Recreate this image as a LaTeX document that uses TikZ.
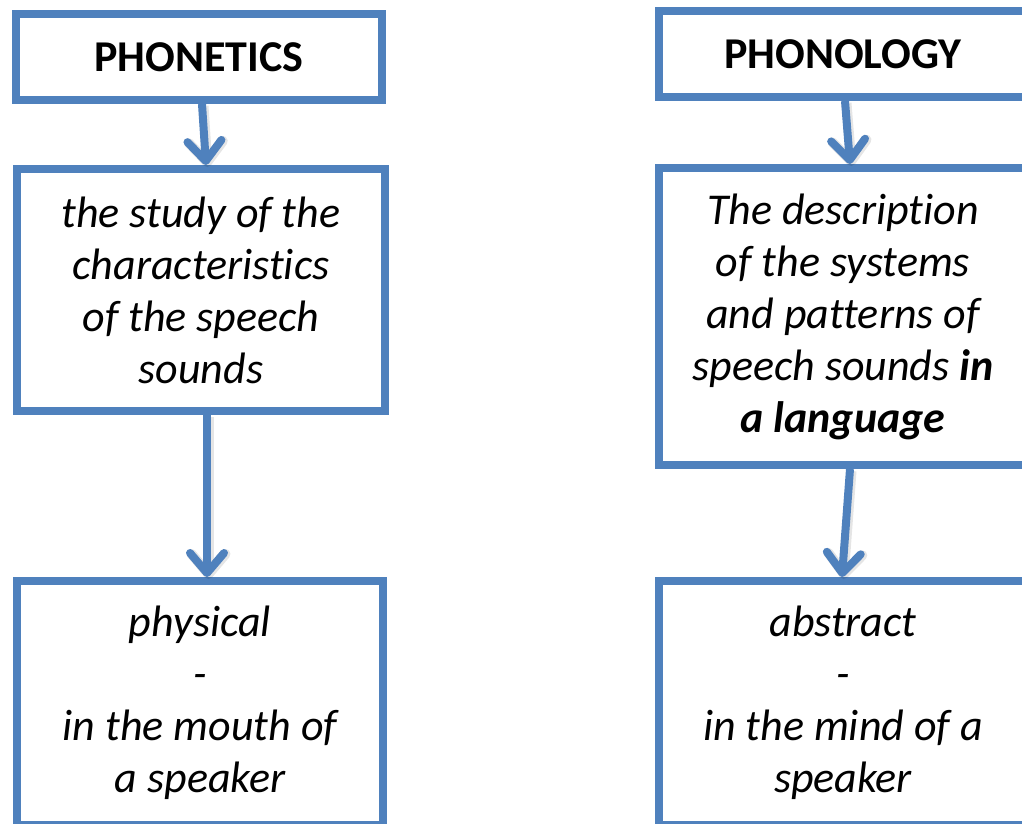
\documentclass[tikz,border=0pt]{standalone}
\usepackage{fontspec}
\setmainfont{Carlito}[Ligatures=NoCommon]
\usetikzlibrary{arrows.meta}
\definecolor{boxblue}{RGB}{79,129,189}
\begin{document}
\begin{tikzpicture}[x=1pt,y=-1pt,
  box/.style={draw=boxblue, line width=8pt, fill=white, inner sep=0pt,
    align=center, font=\fontsize{44}{52}\selectfont},
  link/.style={draw=boxblue, line width=8pt,
    -{Straight Barb[length=20pt,width=34pt,round]}},
  linkshadow/.style={draw=black, opacity=0.1, line width=10pt,
    -{Straight Barb[length=20pt,width=34pt,round]}},
]
\useasboundingbox (0,0) rectangle (1022,823);
\clip (0,0) rectangle (1022,823);

% left column
\node[box, minimum width=366pt, minimum height=86pt] (phonetics) at (199,57)
  {\bfseries PHONETICS};
\node[box, minimum width=368pt, minimum height=242pt] (phdef) at (201,290)
  {\itshape the study of the\\ \itshape characteristics\\ \itshape of the speech\\ \itshape sounds};
\node[box, minimum width=366pt, minimum height=244pt] (physical) at (200,703)
  {\itshape physical\\ \itshape -\\ \itshape in the mouth of\\ \itshape a speaker};

% right column
\node[box, minimum width=368pt, minimum height=86pt] (phonology) at (843,54)
  {\bfseries PHONOLOGY};
\node[box, minimum width=368pt, minimum height=297pt] (pldef) at (843,316.5)
  {\itshape The description\\ \itshape of the systems\\ \itshape and patterns of\\
   \itshape speech sounds \bfseries in\\ \bfseries\itshape a language};
\node[box, minimum width=368pt, minimum height=244pt] (abstract) at (843,703)
  {\itshape abstract\\ \itshape -\\ \itshape in the mind of a\\ \itshape speaker};

% soft shadows under the connectors
\draw[linkshadow] ([xshift=4.5pt,yshift=-2pt]phonetics.south) -- ([xshift=6.5pt,yshift=-2pt]phdef.north);
\draw[linkshadow] ([xshift=7.5pt,yshift=-2pt]phdef.south) -- ([xshift=8.5pt,yshift=-2pt]physical.north);
\draw[linkshadow] ([xshift=3.5pt,yshift=-2pt]phonology.south) -- ([xshift=8.5pt,yshift=-2pt]pldef.north);
\draw[linkshadow] ([xshift=8.5pt,yshift=-2pt]pldef.south) -- ([xshift=0.5pt,yshift=-2pt]abstract.north);

% connectors
\draw[link] ([xshift=3pt]phonetics.south) -- ([xshift=5pt]phdef.north);
\draw[link] ([xshift=6pt]phdef.south) -- ([xshift=7pt]physical.north);
\draw[link] ([xshift=2pt]phonology.south) -- ([xshift=7pt]pldef.north);
\draw[link] ([xshift=7pt]pldef.south) -- ([xshift=-1pt]abstract.north);
\end{tikzpicture}
\end{document}
